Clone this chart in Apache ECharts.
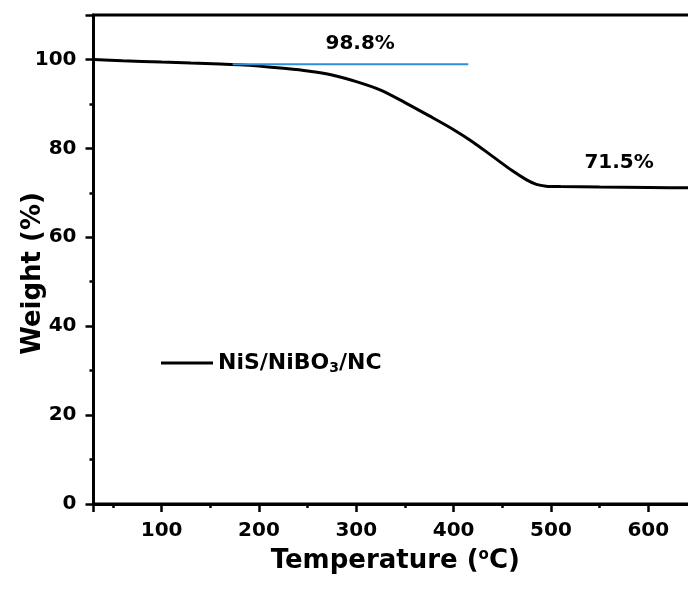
<!DOCTYPE html>
<html lang="en">
<head>
    <meta charset="UTF-8">
    <title>TGA</title>
    <style>
      * { padding: 0; margin: 0; }
      body { background: #fff; }
    </style>
</head>
<body>
    <div id="main" style="width: 688px;height:590px;"></div>
    <script src="https://cdn.jsdelivr.net/npm/echarts@6/dist/echarts.min.js"></script>
    <script>
        // TGA curve, temperature (°C) -> weight (%)
        var temps = [30, 60, 100, 130, 160, 180, 200, 225, 250, 275, 300, 325, 350, 375, 400, 420, 440, 460, 475, 485, 495, 510, 550, 600, 650];
        var weights = [100, 99.7, 99.4, 99.2, 99.0, 98.8, 98.5, 98.0, 97.4, 96.5, 95.0, 93.1, 90.3, 87.3, 84.2, 81.4, 78.2, 75.0, 72.9, 71.9, 71.5, 71.4, 71.3, 71.2, 71.1];

        // blue guide line at the first plateau
        var guideTemps = [173, 415];
        var guideWeights = [98.9, 98.9];

        // text notes: temperature, weight, text
        var noteTemps = [304, 570];
        var noteWeights = [103.6, 76.8];
        var noteTexts = ['98.8%', '71.5%'];

        var seriesName = 'NiS/NiBO3/NC';
        var font = "'DejaVu Sans', sans-serif";

        var curve = temps.map(function (t, i) { return [t, weights[i]]; });
        var guide = guideTemps.map(function (t, i) { return [t, guideWeights[i]]; });
        var notes = noteTemps.map(function (t, i) { return [t, noteWeights[i], noteTexts[i]]; });

        var option = {
            animation: false,
            grid: {
                left: 93.5,
                right: -9,
                top: 15,
                bottom: 86,
                containLabel: false,
                outerBoundsMode: 'none',
                show: true,
                borderColor: '#000',
                borderWidth: 3
            },
            legend: {
                data: [{ name: seriesName, icon: 'rect' }],
                left: 161,
                top: 352,
                padding: 0,
                itemWidth: 52,
                itemHeight: 3,
                itemGap: 0,
                formatter: function () { return 'NiS/NiBO{sub|3}/NC'; },
                textStyle: {
                    color: '#000',
                    fontFamily: font,
                    fontWeight: 'bold',
                    fontSize: 22,
                    rich: {
                        sub: {
                            fontFamily: font,
                            fontWeight: 'bold',
                            fontSize: 14,
                            color: '#000',
                            verticalAlign: 'bottom',
                            padding: [11, 0, 0, 0]
                        }
                    }
                }
            },
            xAxis: {
                type: 'value',
                min: 30,
                max: 650,
                name: 'Temperature ({sup|o}C)',
                nameLocation: 'middle',
                nameGap: 44,
                nameMoveOverlap: false,
                nameTextStyle: {
                    color: '#000',
                    fontFamily: font,
                    fontWeight: 'bold',
                    fontSize: 26,
                    rich: {
                        sup: {
                            color: '#000',
                            fontFamily: font,
                            fontWeight: 'bold',
                            fontSize: 15,
                            verticalAlign: 'top',
                            padding: [0, 0, 10, 0]
                        }
                    }
                },
                axisLine: { lineStyle: { color: '#000', width: 3 } },
                axisTick: { length: 8, lineStyle: { color: '#000', width: 2.5 } },
                minorTick: { show: true, splitNumber: 2, length: 4, lineStyle: { color: '#000', width: 2.5 } },
                splitLine: { show: false },
                axisLabel: {
                    margin: 17,
                    color: '#000',
                    fontFamily: font,
                    fontWeight: 'bold',
                    fontSize: 20,
                    showMinLabel: false,
                    showMaxLabel: false
                }
            },
            yAxis: {
                type: 'value',
                min: 0,
                max: 110,
                interval: 20,
                name: 'Weight (%)',
                nameLocation: 'middle',
                nameGap: 47,
                nameMoveOverlap: false,
                nameTextStyle: {
                    color: '#000',
                    fontFamily: font,
                    fontWeight: 'bold',
                    fontSize: 26,
                    padding: [0, 28, 0, 0]
                },
                axisLine: { show: true, lineStyle: { color: '#000', width: 3 } },
                axisTick: { show: true, length: 8, lineStyle: { color: '#000', width: 2.5 } },
                minorTick: { show: true, splitNumber: 2, length: 4, lineStyle: { color: '#000', width: 2.5 } },
                splitLine: { show: false },
                axisLabel: {
                    margin: 17,
                    color: '#000',
                    fontFamily: font,
                    fontWeight: 'bold',
                    fontSize: 20,
                    showMaxLabel: false
                }
            },
            series: [
                {
                    name: seriesName,
                    type: 'line',
                    data: curve,
                    smooth: 0.3,
                    symbol: 'none',
                    lineStyle: { color: '#000', width: 3 },
                    itemStyle: { color: '#000' },
                    z: 3
                },
                {
                    name: 'guide',
                    type: 'line',
                    data: guide,
                    symbol: 'none',
                    lineStyle: { color: '#2c8fd8', width: 2 },
                    z: 4
                },
                {
                    name: 'notes',
                    type: 'scatter',
                    data: notes,
                    symbolSize: 0,
                    itemStyle: { color: '#000', opacity: 1 },
                    label: {
                        show: true,
                        position: 'inside',
                        color: '#000',
                        fontFamily: font,
                        fontWeight: 'bold',
                        fontSize: 20,
                        formatter: function (p) { return p.value[2]; }
                    }
                }
            ]
        };

        var myChart = echarts.init(document.getElementById('main'));
        myChart.setOption(option);
    </script>
</body>
</html>
